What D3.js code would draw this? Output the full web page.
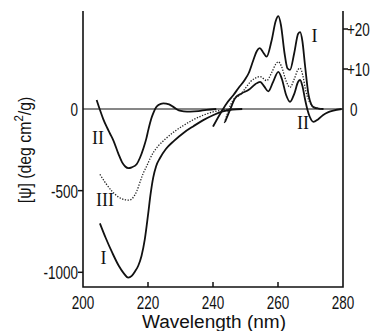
<!DOCTYPE html>
<html>
<head>
<meta charset="utf-8">
<script src="https://cdn.jsdelivr.net/npm/d3@7"></script>
<style>
  body { margin: 0; background: #fff; }
  svg { display: block; }
  .num { font-family: "Liberation Sans", Arial, sans-serif; font-size: 18px; fill: #111; }
  .roman { font-family: "Liberation Serif", serif; font-size: 18px; fill: #111; }
</style>
</head>
<body>
<svg id="chart" width="374" height="331"></svg>
<script>
// far-UV part, read against left axis  [nm, value]
const curveIFar = [[205.2,-700],[207,-790],[209,-880],[211,-960],[212.5,-1005],[213.9,-1032],[215,-1022],[216,-995],[217,-960],[218,-900],[219,-800],[220,-650],[220.8,-520],[221.6,-420],[222.5,-350],[223.7,-300],[225.5,-245],[228,-195],[231,-145],[234,-105],[237,-68],[240,-38],[243,-15],[246,-3],[249,0]];
const curveIIFar = [[204.2,55],[205.2,-5],[206.2,-60],[207.3,-110],[208.3,-150],[209.3,-190],[210.9,-275],[212,-325],[213,-352],[214,-362],[215,-357],[216.5,-338],[217.5,-300],[218.6,-240],[219.5,-180],[220.1,-128],[221,-60],[221.6,-27],[222.5,10],[223.2,24],[224.7,35],[226.5,28],[228,10],[229.5,-8],[231,-14],[233,-16],[235.5,-13],[238,-5],[241,0]];
const curveIIIFar = [[205.2,-400],[207,-455],[209,-505],[211,-540],[213,-556],[214.2,-558],[215.3,-545],[216.5,-505],[217.5,-450],[218.5,-395],[219.6,-350],[220.6,-305],[221.6,-268],[223.2,-225],[225,-190],[228,-140],[231,-100],[234,-65],[237,-38],[240,-18],[243,-6],[246,0]];

// near-UV part, read against right axis  [nm, value]
const curveINear = [[240,-4.4],[242,-1.5],[244.2,1.4],[246.3,3.5],[247.8,5.2],[249.8,7.3],[251,9],[252.4,12.2],[253.5,14.5],[254.4,15.2],[255.4,14.2],[256.5,13.1],[258,17],[259.3,22],[260.1,23.2],[260.9,21],[262,14],[262.9,10.2],[263.7,9.8],[265,14],[266.2,18.8],[266.8,19.2],[267.5,17],[268.3,11],[269.4,3.5],[270.2,1.2],[271,0.4],[272.5,0.1],[274,0]];
const curveIINear = [[243.7,-3.2],[245.2,-0.3],[246.8,2.7],[248.8,3.9],[251,4.8],[253,6.2],[254.5,6.8],[255.8,5.6],[257,4.4],[258.5,6.8],[260.1,9.3],[261.2,7.5],[262.5,3.5],[263.7,1.8],[265,3.8],[266.2,6.8],[266.8,7.25],[267.5,5.8],[268.3,2.5],[269.1,-0.3],[269.8,-2],[270.9,-3.2],[272.3,-2.6],[273.9,-1.5],[275.5,-0.8],[277,-0.4],[279.6,0]];
const curveIIINear = [[243.5,-3.5],[244.5,-1],[245.5,1.2],[246.5,2.6],[248.3,3.5],[250,5.2],[251.5,6.8],[253,7.7],[254.5,8.1],[256.5,7.1],[258,9],[259.3,11.2],[260.1,11.8],[261,10.8],[262.5,7],[263.7,5.4],[265,7.5],[266.2,9.9],[266.8,10.2],[267.6,8.5],[268.5,4.7],[269.4,2.3],[270.5,0.8],[272,0.2],[273.5,0]];

const xTicks = [200, 220, 240, 260, 280];
const leftTicks = [0, -500, -1000];
const rightTicks = [0, 10, 20];
const rightTickLabels = ["0", "+10", "+20"];

const svg = d3.select("#chart");

const x = d3.scaleLinear().domain([200, 280]).range([83, 343]);
const yLeft = d3.scaleLinear().domain([-1000, 0]).range([272.3, 109]);
const yRight = d3.scaleLinear().domain([0, 20]).range([109, 29]);

const frameTop = 11, frameBottom = 287;

// the print uses a condensed face, so squeeze horizontally
const narrowText = (sel, px, py, k = 0.75, rot = false) =>
  sel.attr("transform", `translate(${px},${py})${rot ? " rotate(-90)" : ""} scale(${k},1)`);

// frame (no top line)
svg.append("path")
  .attr("d", `M${x(200)},${frameTop}V${frameBottom}H${x(280)}V${frameTop}`)
  .attr("fill", "none").attr("stroke", "#111").attr("stroke-width", 1.6);

// zero line
svg.append("line")
  .attr("x1", x(200)).attr("x2", x(280))
  .attr("y1", yLeft(0)).attr("y2", yLeft(0))
  .attr("stroke", "#111").attr("stroke-width", 1.2);

// bottom ticks point inward
svg.selectAll(".xt").data(xTicks.slice(1, -1)).enter().append("line")
  .attr("x1", d => x(d)).attr("x2", d => x(d))
  .attr("y1", frameBottom).attr("y2", frameBottom - 5)
  .attr("stroke", "#111").attr("stroke-width", 1.5);

svg.selectAll(".xl").data(xTicks).enter().append("text")
  .attr("class", "num")
  .attr("text-anchor", "middle")
  .each(function (d) { narrowText(d3.select(this), x(d), 309); })
  .text(d => d);

// left ticks point outward
svg.selectAll(".yt").data(leftTicks.slice(1)).enter().append("line")
  .attr("x1", x(200) - 5).attr("x2", x(200))
  .attr("y1", d => yLeft(d)).attr("y2", d => yLeft(d))
  .attr("stroke", "#111").attr("stroke-width", 1.5);

svg.selectAll(".yl").data(leftTicks).enter().append("text")
  .attr("class", "num")
  .attr("text-anchor", "end")
  .each(function (d) { narrowText(d3.select(this), 78, yLeft(d) + 7); })
  .text(d => d);

// right ticks point outward
svg.selectAll(".rt").data(rightTicks.slice(1)).enter().append("line")
  .attr("x1", x(280)).attr("x2", x(280) + 5)
  .attr("y1", d => yRight(d)).attr("y2", d => yRight(d))
  .attr("stroke", "#111").attr("stroke-width", 1.5);

svg.selectAll(".rl").data(rightTicks).enter().append("text")
  .attr("class", "num")
  .each(function (d, i) { narrowText(d3.select(this), i === 0 ? 350 : 347, yRight(d) + 7); })
  .text((d, i) => rightTickLabels[i]);

// axis titles
svg.append("text")
  .attr("class", "num")
  .attr("font-size", 16)
  .attr("x", 214).attr("y", 328)
  .attr("text-anchor", "middle")
  .attr("textLength", 144).attr("lengthAdjust", "spacingAndGlyphs")
  .text("Wavelength  (nm)");

const yTitle = svg.append("text")
  .attr("class", "num")
  .attr("font-size", 19)
  .attr("text-anchor", "middle")
  .call(narrowText, 31, 150, 0.88, true);
yTitle.append("tspan").text("[ψ] (deg cm");
yTitle.append("tspan").attr("dy", -8).attr("font-size", 13).text("2");
yTitle.append("tspan").attr("dy", 8).text("/g)");

// curves
const farLine = d3.line().x(d => x(d[0])).y(d => yLeft(d[1])).curve(d3.curveMonotoneX);
const nearLine = d3.line().x(d => x(d[0])).y(d => yRight(d[1])).curve(d3.curveMonotoneX);

const solid = sel => sel.attr("fill", "none").attr("stroke", "#111").attr("stroke-width", 1.8);
const dotted = sel => sel.attr("fill", "none").attr("stroke", "#222").attr("stroke-width", 1.3).attr("stroke-dasharray", "1.3,1.5");

svg.append("path").attr("d", farLine(curveIFar)).call(solid);
svg.append("path").attr("d", farLine(curveIIFar)).call(solid);
svg.append("path").attr("d", farLine(curveIIIFar)).call(dotted);
svg.append("path").attr("d", nearLine(curveINear)).call(solid);
svg.append("path").attr("d", nearLine(curveIINear)).call(solid);
svg.append("path").attr("d", nearLine(curveIIINear)).call(dotted);

// curve labels
const labels = [
  { t: "II", nm: 204.6, v: -178, side: "L" },
  { t: "III", nm: 206.8, v: -557, side: "L" },
  { t: "I", nm: 206.3, v: -912, side: "L" },
  { t: "I", nm: 271.2, v: 18.2, side: "R" },
  { t: "II", nm: 267.7, v: -3.5, side: "R" }
];
svg.selectAll(".lab").data(labels).enter().append("text")
  .attr("class", "roman")
  .attr("x", d => x(d.nm))
  .attr("y", d => (d.side === "L" ? yLeft(d.v) : yRight(d.v)) + 6)
  .attr("text-anchor", "middle")
  .text(d => d.t);
</script>
</body>
</html>
